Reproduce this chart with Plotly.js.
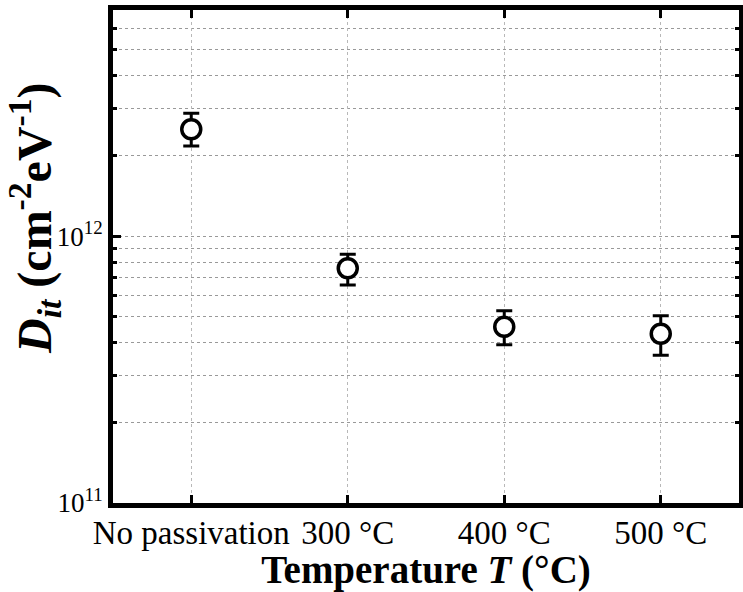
<!DOCTYPE html>
<html>
<head>
<meta charset="utf-8">
<script src="https://cdn.plot.ly/plotly-3.0.1.min.js"></script>
<style>html,body{margin:0;padding:0;background:#fff;}#chart{width:743px;height:592px;}</style>
</head>
<body>
<div id="chart"></div>
<script>
// Data
const categories = ["No passivation", "300 °C", "400 °C", "500 °C"];
const dit = [2.52e12, 7.59e11, 4.58e11, 4.31e11];
const ditUpper = [2.89e12, 8.56e11, 5.26e11, 5.04e11];
const ditLower = [2.18e12, 6.57e11, 3.92e11, 3.58e11];
const yMajorVals = [1e11, 1e12];
const yMajorText = ["10<sup>11</sup>", "10<sup>12</sup>"];
const yMinorVals = [2e11,3e11,4e11,5e11,6e11,7e11,8e11,9e11,2e12,3e12,4e12,5e12,6e12,7e12];
const xTitle = '<b>Temperature <i>T</i> (°C)</b>';
const yTitle = '<b><i>D<sub>it</sub></i> (cm<sup>-2</sup>eV<sup>-1</sup>)</b>';

const xIdx = categories.map((c, i) => i);
const errPlus = dit.map((v, i) => ditUpper[i] - v);
const errMinus = dit.map((v, i) => v - ditLower[i]);

const font = 'Liberation Serif';

const trace = {
  x: xIdx,
  y: dit,
  type: 'scatter',
  mode: 'markers',
  marker: {symbol: 'circle', size: 19, color: '#ffffff', line: {color: '#000000', width: 3.5}},
  error_y: {type: 'data', symmetric: false, array: errPlus, arrayminus: errMinus,
            color: '#000000', thickness: 3, width: 8},
  cliponaxis: false,
  showlegend: false
};

const layout = {
  width: 743, height: 592,
  margin: {l: 113, r: 4, t: 10, b: 89},
  paper_bgcolor: '#ffffff', plot_bgcolor: '#ffffff',
  font: {family: font, color: '#000000'},
  showlegend: false,
  xaxis: {
    range: [-0.5, 3.5],
    tickmode: 'array', tickvals: xIdx, ticktext: categories,
    tickfont: {family: font, size: 33, color: '#000'},
    ticklabelstandoff: -4,
    ticks: 'inside', ticklen: 8, tickwidth: 3, tickcolor: '#000',
    showline: true, linewidth: 5, linecolor: '#000', mirror: 'ticks',
    showgrid: true, gridcolor: '#b8b8b8', gridwidth: 1, griddash: 'dot',
    zeroline: false,
    title: {text: xTitle, font: {family: font, size: 39, color: '#000'}, standoff: 4}
  },
  yaxis: {
    type: 'log',
    range: [11, Math.log10(7.05e12)],
    tickmode: 'array', tickvals: yMajorVals, ticktext: yMajorText,
    tickfont: {family: font, size: 27, color: '#000'},
    ticks: 'inside', ticklen: 8, tickwidth: 3, tickcolor: '#000',
    showline: true, linewidth: 5, linecolor: '#000', mirror: 'ticks',
    showgrid: true, gridcolor: '#999999', gridwidth: 1, griddash: 'dot',
    zeroline: false,
    minor: {tickmode: 'array', tickvals: yMinorVals, ticks: 'inside', ticklen: 4, tickwidth: 3,
            tickcolor: '#000', showgrid: true, gridcolor: '#999999', gridwidth: 1, griddash: 'dot'}
  },
  annotations: [{
    text: yTitle, xref: 'paper', yref: 'paper',
    x: (34 - 113) / 626, y: 1 - (218 - 10) / 493,
    xanchor: 'center', yanchor: 'middle', textangle: -90, showarrow: false,
    font: {family: font, size: 48, color: '#000'}
  }]
};

Plotly.newPlot('chart', [trace], layout, {displayModeBar: false, staticPlot: true});
</script>
</body>
</html>
